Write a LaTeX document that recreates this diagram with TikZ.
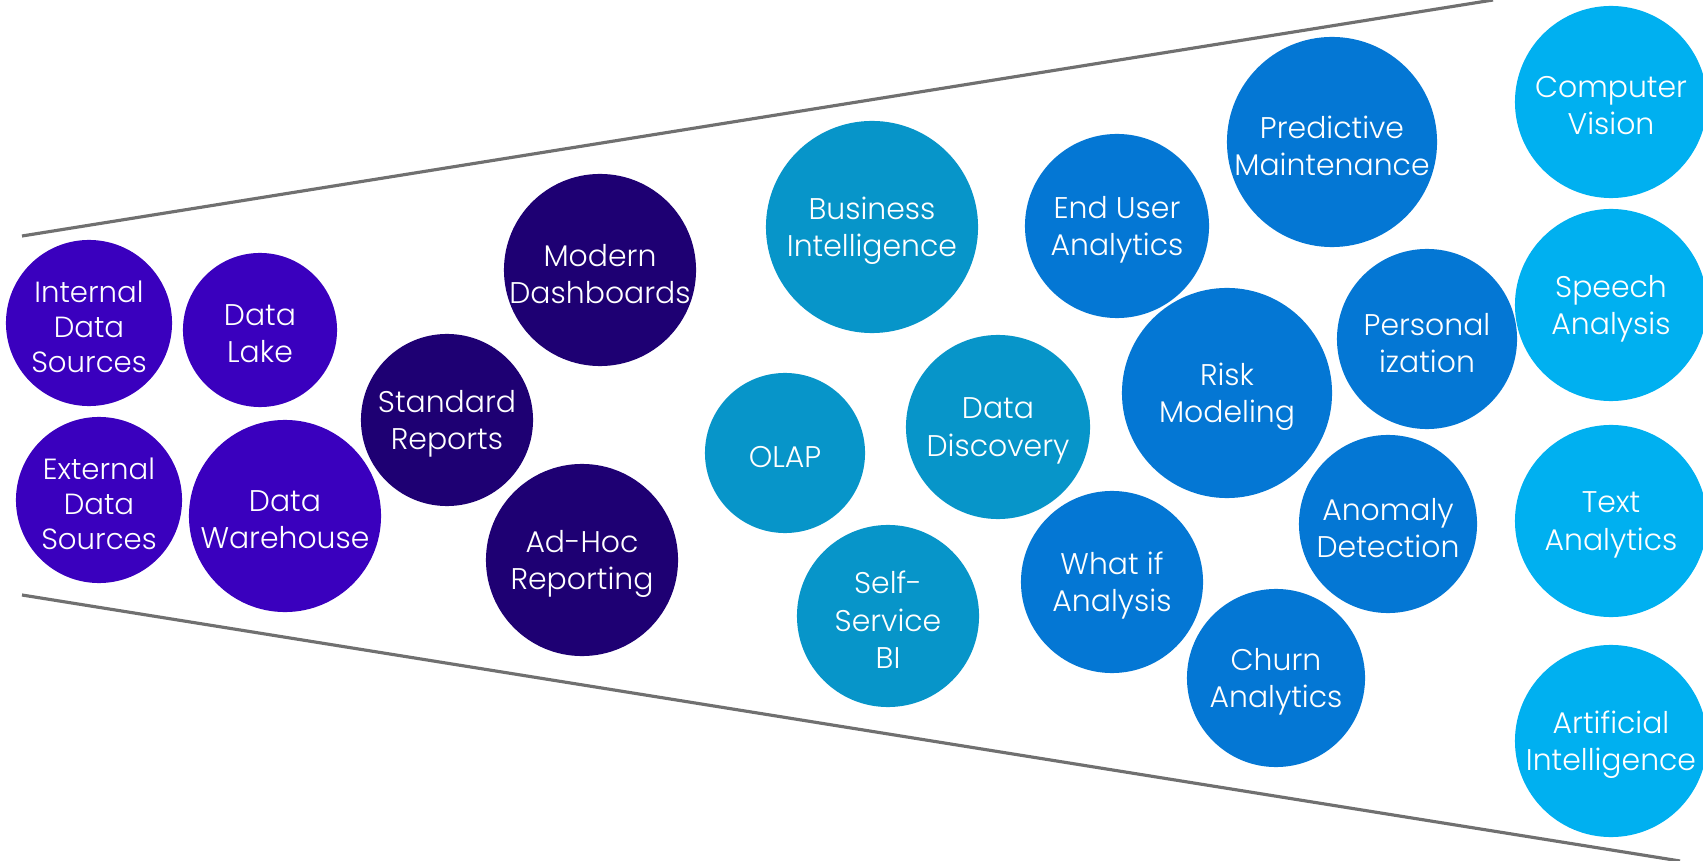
\documentclass[tikz,border=0pt]{standalone}
\usepackage{fontspec}
\setmainfont{Poppins}[UprightFont={* Light}]
\definecolor{srcpurple}{HTML}{3A00BE}
\definecolor{repnavy}{HTML}{1E0073}
\definecolor{biteal}{HTML}{0795C9}
\definecolor{anblue}{HTML}{0477D4}
\definecolor{aicyan}{HTML}{00B0F0}
\definecolor{funnelgray}{HTML}{707070}
\begin{document}
\begin{tikzpicture}[x=0.01cm,y=-0.01cm,
  bubble/.style={circle,inner sep=0pt,minimum size=#1},
  bubtext/.style={text=white,align=center,yshift=-1.1pt,
    font=\fontsize{8.5}{10.6}\selectfont},
  smalltext/.style={bubtext,font=\fontsize{8.3}{9.9}\selectfont},
  funnel/.style={funnelgray,line width=0.9pt}]
\useasboundingbox (0,0) rectangle (1703,861);
% funnel outline
\coordinate (topl) at (22,236);
\coordinate (topr) at (1493,0);
\coordinate (botl) at (22,595);
\coordinate (botr) at (1680,861);
\draw[funnel] (topl) -- (topr);
\draw[funnel] (botl) -- (botr);

% data sources
\node[bubble=1.66cm,fill=srcpurple,label={[smalltext]center:{Internal\\Data\\Sources}}] (intsrc) at (89,323) {};
\node[bubble=1.54cm,fill=srcpurple,label={[bubtext]center:{Data\\Lake}}] (lake) at (260,330) {};
\node[bubble=1.66cm,fill=srcpurple,label={[smalltext]center:{External\\Data\\Sources}}] (extsrc) at (99,500) {};
\node[bubble=1.92cm,fill=srcpurple,label={[bubtext]center:{Data\\Warehouse}}] (warehouse) at (285,516) {};

% reporting
\node[bubble=1.72cm,fill=repnavy,label={[bubtext]center:{Standard\\Reports}}] (stdrep) at (447,420) {};
\node[bubble=1.92cm,fill=repnavy,label={[bubtext]center:{Modern\\Dashboards}}] (moddash) at (600,270) {};
\node[bubble=1.92cm,fill=repnavy,label={[bubtext]center:{Ad-Hoc\\Reporting}}] (adhoc) at (582,560) {};

% BI
\node[bubble=2.12cm,fill=biteal,label={[bubtext]center:{Business\\Intelligence}}] (bi) at (872,227) {};
\node[bubble=1.60cm,fill=biteal,label={[bubtext]center:{OLAP}}] (olap) at (785,453) {};
\node[bubble=1.84cm,fill=biteal,label={[bubtext]center:{Data\\Discovery}}] (discovery) at (998,427) {};
\node[bubble=1.82cm,fill=biteal,label={[bubtext]center:{Self-\\Service\\BI}}] (selfbi) at (888,616) {};

% analytics
\node[bubble=1.84cm,fill=anblue,label={[bubtext]center:{End User\\Analytics}}] (enduser) at (1117,226) {};
\node[bubble=2.10cm,fill=anblue,label={[bubtext]center:{Predictive\\Maintenance}}] (predmaint) at (1332,142) {};
\node[bubble=2.10cm,fill=anblue,label={[bubtext]center:{Risk\\Modeling}}] (risk) at (1227,393) {};
\node[bubble=1.80cm,fill=anblue,label={[bubtext]center:{Personal\\ization}}] (personal) at (1427,339) {};
\node[bubble=1.82cm,fill=anblue,label={[bubtext]center:{What if\\Analysis}}] (whatif) at (1112,582) {};
\node[bubble=1.78cm,fill=anblue,label={[bubtext]center:{Anomaly\\Detection}}] (anomaly) at (1388,524) {};
\node[bubble=1.78cm,fill=anblue,label={[bubtext]center:{Churn\\Analytics}}] (churn) at (1276,678) {};

% AI
\node[bubble=1.92cm,fill=aicyan,label={[bubtext]center:{Computer\\Vision}}] (vision) at (1611,102) {};
\node[bubble=1.92cm,fill=aicyan,label={[bubtext]center:{Speech\\Analysis}}] (speech) at (1611,305) {};
\node[bubble=1.92cm,fill=aicyan,label={[bubtext]center:{Text\\Analytics}}] (textan) at (1611,521) {};
\node[bubble=1.92cm,fill=aicyan,label={[bubtext]center:{Artificial\\Intelligence}}] (ai) at (1611,741) {};
\end{tikzpicture}
\end{document}
